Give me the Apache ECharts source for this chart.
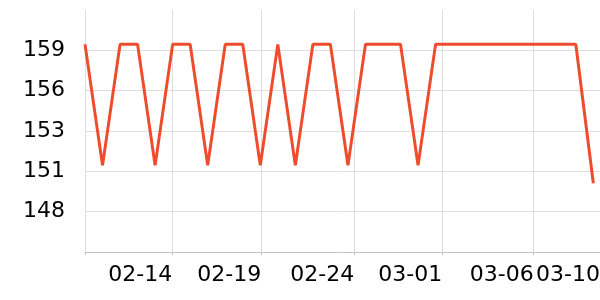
<!DOCTYPE html>
<html>
<head>
<meta charset="utf-8">
<script src="https://cdn.jsdelivr.net/npm/echarts@6/dist/echarts.min.js"></script>
<style>html,body{margin:0;padding:0;background:#fff}#c{width:600px;height:300px}</style>
</head>
<body>
<div id="c"></div>
<script>
// Data (one point per day)
const dates = ['02-09','02-10','02-11','02-12','02-13','02-14','02-15','02-16','02-17','02-18',
               '02-19','02-20','02-21','02-22','02-23','02-24','02-25','02-26','02-27','02-28',
               '03-01','03-02','03-03','03-04','03-05','03-06','03-07','03-08','03-09','03-10'];
const values = [159.7,151.6,159.7,159.7,151.6,159.7,159.7,151.6,159.7,159.7,
                151.6,159.7,151.6,159.7,159.7,151.6,159.7,159.7,159.7,151.6,
                159.7,159.7,159.7,159.7,159.7,159.7,159.7,159.7,159.7,150.4];
// x tick labels and where they sit on the day-index axis
const xTickLabels = ['02-14','02-19','02-24','03-01','03-06','03-10'];
const xTickAt = [4.98, 10.05, 15.36, 20.38, 25.6, 29.38];
// y axis scale
const yMin = 145.8, yMax = 162.0, yStep = 2.7;

const seriesData = values.map((v, i) => [i, v]);
const font = 'DejaVu Sans';
const chart = echarts.init(document.getElementById('c'), null, {renderer: 'canvas'});
chart.setOption({
  animation: false,
  grid: {left: 85, right: 0, top: 10, bottom: 48, containLabel: false, outerBoundsMode: 'none'},
  xAxis: {
    type: 'value', min: 0, max: xTickAt[xTickAt.length - 1],
    axisLine: {show: true, lineStyle: {color: '#c4c4c4', width: 1}},
    axisTick: {show: true, length: 3, lineStyle: {color: '#c4c4c4'},
               customValues: [0].concat(xTickAt.slice(0, -1))},
    splitLine: {show: true, lineStyle: {color: '#dedede', width: 1}},
    axisLabel: {
      customValues: xTickAt,
      align: 'right', margin: 12,
      fontFamily: font, fontSize: 22, color: '#000',
      formatter: v => { const k = xTickAt.findIndex(t => Math.abs(t - v) < 1e-6); return k >= 0 ? xTickLabels[k] : ''; }
    }
  },
  yAxis: {
    type: 'value', min: yMin, max: yMax, interval: yStep,
    axisLine: {show: false},
    axisTick: {show: false},
    splitLine: {show: true, showMaxLine: false, showMinLine: false, lineStyle: {color: '#dedede', width: 1}},
    axisLabel: {
      showMinLabel: false, showMaxLabel: false, margin: 20,
      fontFamily: font, fontSize: 22, color: '#000',
      formatter: v => String(Math.floor(v + 1e-9))
    }
  },
  series: [{
    type: 'line', data: seriesData, showSymbol: false,
    lineStyle: {color: '#ee4c2c', width: 3},
    itemStyle: {color: '#ee4c2c'}
  }]
});
</script>
</body>
</html>
